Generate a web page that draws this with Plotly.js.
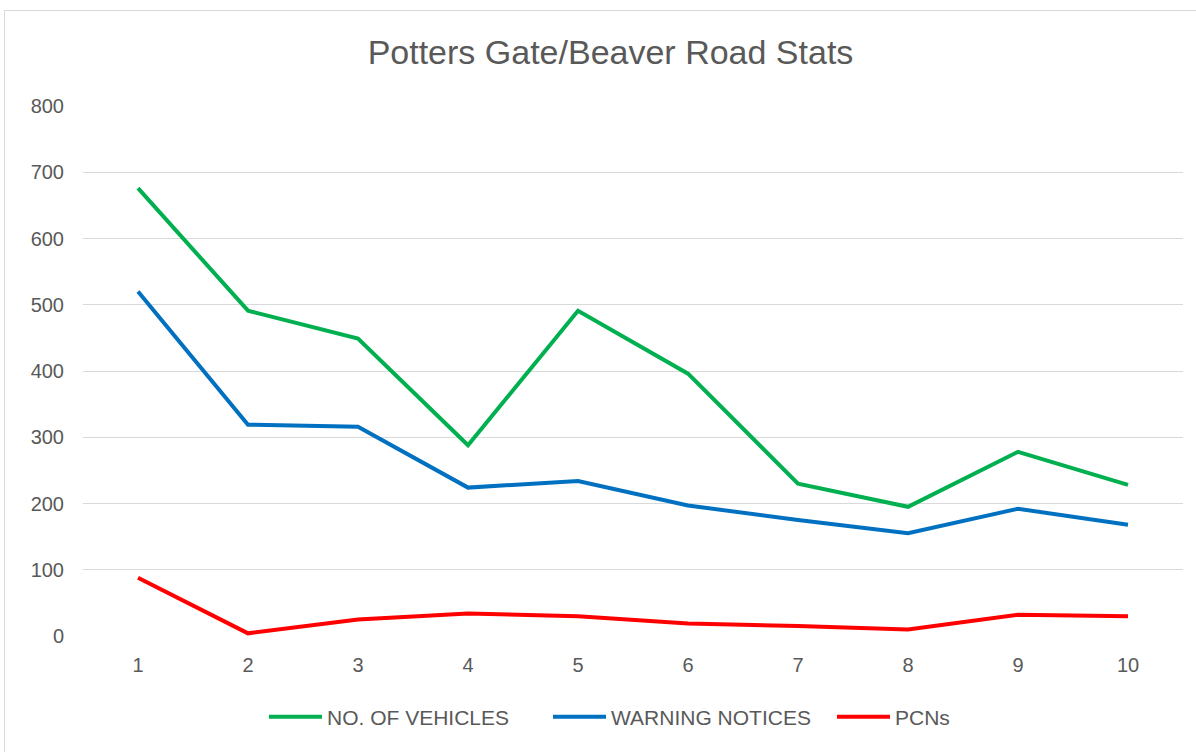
<!DOCTYPE html>
<html>
<head>
<meta charset="utf-8">
<script src="https://cdn.plot.ly/plotly-3.0.1.min.js"></script>
<style>
  html, body { margin: 0; padding: 0; background: #ffffff; }
  #frame { position: absolute; left: 4px; top: 10px; width: 1200px; height: 750px; border: 1px solid #d9d9d9; box-sizing: border-box; }
  #chart { position: absolute; left: 0; top: 0; width: 1196px; height: 752px; }
</style>
</head>
<body>
<div id="frame"></div>
<div id="chart"></div>
<script>
const categories = ['1', '2', '3', '4', '5', '6', '7', '8', '9', '10'];
const vehicles = [676, 491, 449, 288, 491, 396, 230, 195, 278, 228];
const warnings = [520, 319, 316, 224, 234, 197, 175, 155, 192, 168];
const pcns = [88, 4, 25, 34, 30, 19, 15, 10, 32, 30];
const seriesNames = ['NO. OF VEHICLES', 'WARNING NOTICES', 'PCNs'];
const yTicks = [0, 100, 200, 300, 400, 500, 600, 700, 800];

const colors = ['#00B050', '#0070C0', '#FF0000'];
const allSeries = [vehicles, warnings, pcns];

const traces = allSeries.map((vals, i) => ({
  x: categories,
  y: vals,
  name: seriesNames[i],
  type: 'scatter',
  mode: 'lines',
  line: { color: colors[i], width: 4 },
  hoverinfo: 'skip'
}));

const fontFam = '"Liberation Sans", Arial, sans-serif';
const layout = {
  width: 1196,
  height: 752,
  paper_bgcolor: 'rgba(0,0,0,0)',
  plot_bgcolor: 'rgba(0,0,0,0)',
  margin: { l: 83, r: 13, t: 106, b: 116 },
  font: { family: fontFam, color: '#595959', size: 20 },
  title: {
    text: 'Potters Gate/Beaver Road Stats',
    font: { family: fontFam, size: 34, color: '#595959' },
    x: 610.5 / 1196, xanchor: 'center', xref: 'container',
    y: 1 - 52 / 752, yanchor: 'middle', yref: 'container'
  },
  xaxis: {
    type: 'category',
    range: [-0.5, 9.5],
    showgrid: false,
    zeroline: false,
    showline: false,
    ticks: '',
    ticklabelstandoff: 15,
    tickfont: { family: fontFam, size: 20, color: '#595959' },
    fixedrange: true
  },
  yaxis: {
    range: [0, 800],
    tickvals: yTicks,
    ticktext: yTicks.map(String),
    showgrid: true,
    gridcolor: '#d9d9d9',
    gridwidth: 1,
    zeroline: false,
    showline: false,
    ticks: '',
    ticklabelstandoff: 18,
    tickfont: { family: fontFam, size: 20, color: '#595959' },
    fixedrange: true
  },
  showlegend: true,
  legend: {
    orientation: 'h',
    x: 264 / 1196, xanchor: 'left', xref: 'container',
    y: 1 - 717 / 752, yanchor: 'middle', yref: 'container',
    font: { family: fontFam, size: 21, color: '#595959' },
    itemwidth: 53,
    entrywidth: 216,
    entrywidthmode: 'pixels',
    tracegroupgap: 0
  }
};

Plotly.newPlot('chart', traces, layout, { displayModeBar: false, staticPlot: true });
</script>
</body>
</html>
